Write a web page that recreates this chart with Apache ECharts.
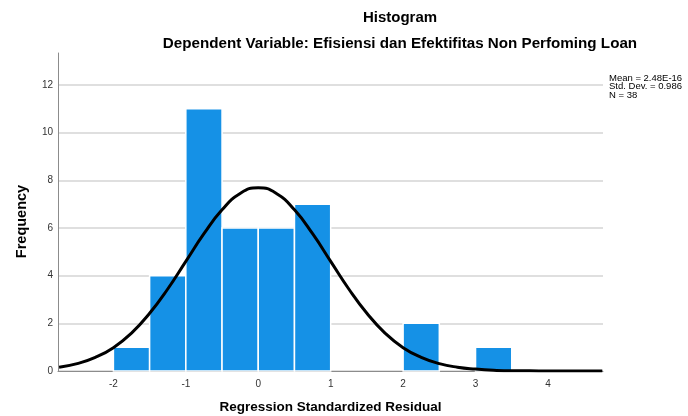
<!DOCTYPE html>
<html>
<head>
<meta charset="utf-8">
<script src="https://cdn.jsdelivr.net/npm/echarts@6/dist/echarts.min.js"></script>
<style>
  html, body { margin: 0; padding: 0; background: #fff; }
  #main { width: 688px; height: 416px; }
</style>
</head>
<body>
<div id="main"></div>
<script>
// histogram bins (width 0.5) and counts
var binStart = [-2.0, -1.5, -1.0, -0.5, 0.0, 0.5, 2.0, 3.0];
var binEnd   = [-1.5, -1.0, -0.5, 0.0, 0.5, 1.0, 2.5, 3.5];
var counts   = [1, 4, 11, 6, 6, 7, 2, 1];

// normal curve
var curveX = [-2.75, -2.5, -2.25, -2.0, -1.75, -1.5, -1.25, -1.0, -0.75, -0.5, -0.25, 0,
              0.25, 0.5, 0.75, 1.0, 1.25, 1.5, 1.75, 2.0, 2.25, 2.5, 2.75, 3.0, 3.25, 3.5,
              3.75, 4.0, 4.25, 4.5, 4.75];
var curveY = [0.16, 0.31, 0.57, 0.98, 1.59, 2.42, 3.44, 4.60, 5.76, 6.76, 7.45, 7.69,
              7.45, 6.76, 5.76, 4.60, 3.44, 2.42, 1.59, 0.98, 0.57, 0.31, 0.16, 0.08, 0.03, 0.01,
              0.01, 0.0, 0.0, 0.0, 0.0];

var xTicks = [-2, -1, 0, 1, 2, 3, 4];
var yTicks = [0, 2, 4, 6, 8, 10, 12];

var statsLines = ['Mean = 2.48E-16', 'Std. Dev. = 0.986', 'N = 38'];

var barData = binStart.map(function (s, i) { return [s, binEnd[i], counts[i]]; });
var curveData = curveX.map(function (x, i) { return [x, curveY[i]]; });

var myChart = echarts.init(document.getElementById('main'));

myChart.setOption({
    animation: false,
    backgroundColor: '#ffffff',
    textStyle: { fontFamily: 'Liberation Sans, Arial, sans-serif' },
    title: [{
        text: 'Histogram',
        left: 395, top: 5,
        textAlign: 'center',
        textStyle: { fontSize: 15, fontWeight: 'bold', color: '#000' }
    }, {
        text: 'Dependent Variable: Efisiensi dan Efektifitas Non Perfoming Loan',
        left: 395, top: 31,
        textAlign: 'center',
        textStyle: { fontSize: 15.2, fontWeight: 'bold', color: '#000' }
    }],
    graphic: [{
        type: 'text',
        left: 609, top: 73,
        style: {
            text: statsLines.join('\n'),
            fontSize: 9.5, lineHeight: 8.6,
            fill: '#000',
            fontFamily: 'Liberation Sans, Arial, sans-serif'
        }
    }],
    grid: { left: 58, right: 85, top: 53, bottom: 45, outerBoundsMode: 'none' },
    xAxis: {
        type: 'value',
        min: -2.765, max: 4.76,
        name: 'Regression Standardized Residual',
        nameLocation: 'middle',
        nameGap: 29,
        nameTextStyle: { fontSize: 13.5, fontWeight: 'bold', color: '#000' },
        axisLine: { onZero: false, lineStyle: { color: '#8c8c8c', width: 1 } },
        axisTick: { show: false, customValues: xTicks },
        axisLabel: { customValues: xTicks, fontSize: 10, color: '#333', margin: 8 },
        splitLine: { show: false }
    },
    yAxis: {
        type: 'value',
        min: 0, max: 13.34,
        name: 'Frequency',
        nameLocation: 'middle',
        nameGap: 29,
        nameTextStyle: { fontSize: 14.5, fontWeight: 'bold', color: '#000', padding: [0, 19, 0, 0] },
        axisLine: { show: true, onZero: false, lineStyle: { color: '#8c8c8c', width: 1 } },
        axisTick: { show: false, customValues: yTicks },
        axisLabel: { customValues: yTicks, fontSize: 10, color: '#333', margin: 5 },
        splitLine: { show: true, lineStyle: { color: '#d4d4d4', width: 1.5 } }
    },
    series: [{
        type: 'custom',
        data: barData,
        z: 2,
        renderItem: function (params, api) {
            var p0 = api.coord([api.value(0), api.value(2)]);
            var p1 = api.coord([api.value(1), 0]);
            return {
                type: 'rect',
                shape: { x: p0[0], y: p0[1], width: p1[0] - p0[0], height: p1[1] - p0[1] },
                style: { fill: '#1591e6', stroke: '#ffffff', lineWidth: 1.5 }
            };
        }
    }, {
        type: 'line',
        data: curveData,
        smooth: true,
        symbol: 'none',
        z: 3,
        lineStyle: { color: '#000', width: 3 }
    }]
});
</script>
</body>
</html>
